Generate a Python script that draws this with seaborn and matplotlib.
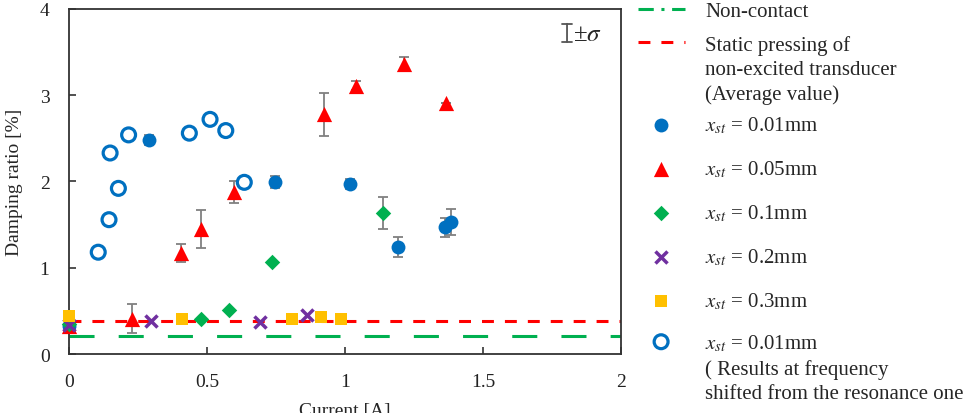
import matplotlib
matplotlib.use("Agg")
import matplotlib.pyplot as plt
from matplotlib.lines import Line2D
import seaborn as sns

# levels of the two reference lines
noncontact_level = 0.21
static_level = 0.38

# x_st = 0.01mm (at resonance)
x001 = [0.0, 0.29, 0.746, 1.018, 1.193, 1.362, 1.383]
y001 = [0.33, 2.48, 1.99, 1.97, 1.24, 1.47, 1.53]
e001 = [0.0, 0.06, 0.07, 0.06, 0.12, 0.11, 0.15]

# x_st = 0.05mm
x005 = [0.0, 0.229, 0.405, 0.477, 0.598, 0.925, 1.039, 1.213, 1.366]
y005 = [0.32, 0.41, 1.17, 1.45, 1.88, 2.78, 3.11, 3.36, 2.91]
e005 = [0.0, 0.17, 0.10, 0.22, 0.13, 0.25, 0.05, 0.08, 0.0]

# x_st = 0.1mm
x01 = [0.0, 0.477, 0.579, 0.736, 1.139]
y01 = [0.35, 0.41, 0.51, 1.07, 1.635]
e01 = [0.0, 0.0, 0.0, 0.0, 0.185]

# x_st = 0.2mm
x02 = [0.0, 0.296, 0.692, 0.861]
y02 = [0.34, 0.386, 0.367, 0.45]

# x_st = 0.3mm
x03 = [0.0, 0.41, 0.809, 0.912, 0.984]
y03 = [0.44, 0.41, 0.406, 0.425, 0.406]

# x_st = 0.01mm, shifted frequency
xshift = [0.106, 0.145, 0.179, 0.149, 0.216, 0.436, 0.511, 0.568, 0.635]
yshift = [1.18, 1.557, 1.92, 2.33, 2.54, 2.56, 2.72, 2.59, 1.99]

xticks = [0, 0.5, 1, 1.5, 2]
xticklabels = ["0", "0.5", "1", "1.5", "2"]
yticks = [0, 1, 2, 3, 4]

labels = [
    "Non-contact",
    "Static pressing of\nnon-excited transducer\n(Average value)",
    r"$x_{st}$ = 0.01mm",
    r"$x_{st}$ = 0.05mm",
    r"$x_{st}$ = 0.1mm",
    r"$x_{st}$ = 0.2mm",
    r"$x_{st}$ = 0.3mm",
    r"$x_{st}$ = 0.01mm" + "\n( Results at frequency\nshifted from the resonance one",
]

BLUE, RED, GREEN, PURPLE, YELLOW = "#0070C0", "#FF0000", "#00B050", "#7030A0", "#FFC000"

sns.set_theme(style="ticks")
plt.rcParams["font.family"] = ["Liberation Serif", "DejaVu Serif"]
plt.rcParams["mathtext.fontset"] = "stix"

fig = plt.figure(figsize=(9.66, 4.14), dpi=100)
ax = fig.add_axes([0.0714, 0.1425, 0.5716, 0.8335])

# reference lines
ax.axhline(noncontact_level, color=GREEN, lw=2.2, dashes=(8.2, 7.9), zorder=1, label="_nolegend_")
ax.axhline(static_level, color=RED, lw=2.2, dashes=(3.9, 3.6), zorder=1, label=labels[1])

# error bars
ebkw = dict(fmt="none", ecolor="#808080", elinewidth=1.3, capsize=3.6, capthick=1.3, zorder=2, clip_on=False)
ax.errorbar(x001, y001, yerr=e001, **ebkw)
ax.errorbar(x005, y005, yerr=e005, **ebkw)
ax.errorbar(x01, y01, yerr=e01, **ebkw)

# markers
skw = dict(ax=ax, zorder=3, clip_on=False)
sns.scatterplot(x=x001, y=y001, marker="o", s=100, color=BLUE, edgecolor=BLUE, linewidth=0, label=labels[2], **skw)
sns.scatterplot(x=x005, y=y005, marker="^", s=120, color=RED, edgecolor=RED, linewidth=0, label=labels[3], **skw)
sns.scatterplot(x=x01, y=y01, marker="D", s=62, color=GREEN, edgecolor=GREEN, linewidth=0, label=labels[4], **skw)
sns.scatterplot(x=x02, y=y02, marker="x", s=75, color=PURPLE, linewidth=2.5, label=labels[5], **skw)
sns.scatterplot(x=x03, y=y03, marker="s", s=85, color=YELLOW, edgecolor=YELLOW, linewidth=0, label=labels[6], **skw)
sns.scatterplot(x=xshift, y=yshift, marker="o", s=100, color=BLUE, edgecolor=BLUE, linewidth=2.3, label=labels[7], **skw)
ax.collections[-1].set_facecolor("none")
ax.collections[-1].set_edgecolor(BLUE)
if ax.get_legend() is not None:
    ax.get_legend().remove()

ax.set_xlim(0, 2)
ax.set_ylim(0, 4)
ax.set_xticks(xticks)
ax.set_xticklabels(xticklabels)
ax.set_yticks(yticks)
ax.tick_params(direction="in", length=5, width=1.2, pad=14, labelsize=14, colors="#333333")
ax.tick_params(labelcolor="#222222")
for sp in ax.spines.values():
    sp.set_color("#333333")
    sp.set_linewidth(1.3)
ax.set_xlabel("Current [A]", fontsize=14, labelpad=8)
ax.set_ylabel("Damping ratio [%]", fontsize=14, labelpad=12)

# +-sigma key
ax.annotate("", xy=(0.902, 0.965), xytext=(0.902, 0.896), xycoords="axes fraction",
            arrowprops=dict(arrowstyle="|-|,widthA=0.3,widthB=0.3", color="#555555", lw=1.3))
ax.text(0.912, 0.928, "±" + r"$\sigma$", transform=ax.transAxes, fontsize=18, va="center", ha="left")

# legend
h, l = ax.get_legend_handles_labels()
green_proxy = Line2D([], [], color=GREEN, lw=2.2, dashes=(5, 2.5, 1, 2.5))
handles = [green_proxy] + h
leg = fig.legend(handles, labels, loc="upper left", bbox_to_anchor=(0.66, 0.9935),
                 frameon=False, fontsize=15, handlelength=2.26, handletextpad=1.0,
                 labelspacing=0.0, borderpad=0, borderaxespad=0)
for t in leg.get_texts():
    t.set_linespacing(1.36)

# extra room above / below each legend row (points), to get the uneven spacing of the original
row_top = [0, 0, 8.5, 8.85, 8.85, 8.85, 8.85, 0]
row_bottom = [13.5, 0, 12.35, 12.35, 12.35, 12.35, 18.8, 0]
for col in leg._legend_handle_box.get_children():
    for row, lab, t, b in zip(col.get_children(), labels, row_top, row_bottom):
        if "\n" in lab:
            row.align = "top"
        else:
            box = row.get_children()[0]
            box.height += t + b
            box.ydescent += b

fig.savefig("out.png", dpi=100)
